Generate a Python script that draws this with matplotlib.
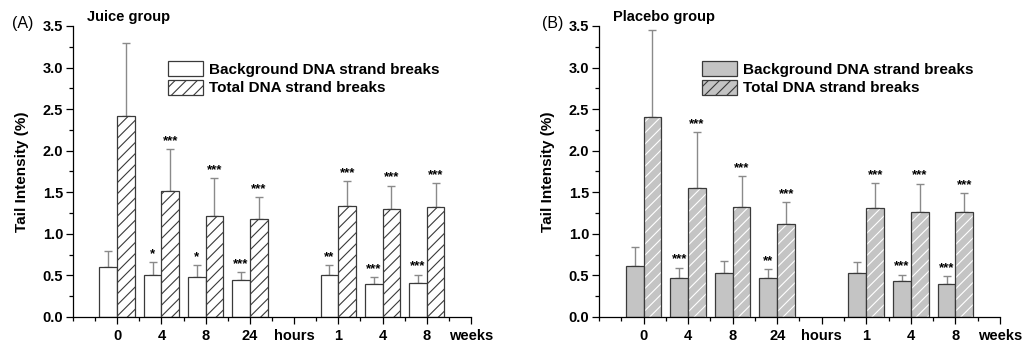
import matplotlib

matplotlib.use("Agg")
import matplotlib.pyplot as plt
import numpy as np

plt.rcParams["font.family"] = ["Liberation Sans", "DejaVu Sans"]
plt.rcParams["hatch.linewidth"] = 0.8

# x-axis group labels and positions (units of the minor tick spacing)
tick_labels = ["0", "4", "8", "24", "hours", "1", "4", "8", "weeks"]
group_pos = [2, 4, 6, 8, 12, 14, 16]

# Juice group
juice_bg = [0.60, 0.50, 0.48, 0.45, 0.50, 0.40, 0.41]
juice_bg_err = [0.19, 0.16, 0.14, 0.09, 0.12, 0.08, 0.10]
juice_tot = [2.42, 1.51, 1.22, 1.18, 1.34, 1.30, 1.32]
juice_tot_err = [0.88, 0.51, 0.45, 0.26, 0.29, 0.28, 0.29]
juice_bg_sig = ["", "*", "*", "***", "**", "***", "***"]
juice_tot_sig = ["", "***", "***", "***", "***", "***", "***"]

# Placebo group
plac_bg = [0.61, 0.465, 0.525, 0.465, 0.525, 0.43, 0.40]
plac_bg_err = [0.235, 0.125, 0.145, 0.11, 0.135, 0.08, 0.09]
plac_tot = [2.40, 1.55, 1.32, 1.12, 1.31, 1.26, 1.26]
plac_tot_err = [1.05, 0.67, 0.37, 0.26, 0.30, 0.34, 0.23]
plac_bg_sig = ["", "***", "", "**", "", "***", "***"]
plac_tot_sig = ["", "***", "***", "***", "***", "***", "***"]

EDGE = "#3a3a3a"
ERR = "#8a8a8a"
GRAY = "#c4c4c4"
W = 0.8


def draw_panel(ax, bg, bg_err, tot, tot_err, bg_sig, tot_sig, fill, hatch_col,
               letter, letter_x, title, leg_x):
    x = np.array(group_pos, dtype=float)
    xb = x - W / 2
    xt = x + W / 2

    ax.errorbar(xb, bg, yerr=[np.zeros(len(bg)), bg_err], fmt="none",
                ecolor=ERR, elinewidth=1.0, capsize=3, capthick=1.0, zorder=1)
    ax.errorbar(xt, tot, yerr=[np.zeros(len(tot)), tot_err], fmt="none",
                ecolor=ERR, elinewidth=1.0, capsize=3, capthick=1.0, zorder=1)

    ax.bar(xb, bg, W, facecolor=fill, edgecolor=EDGE, linewidth=0.9, zorder=2)
    # hatched bars: fill + hatch drawn first, outline on top
    ax.bar(xt, tot, W, facecolor=fill, edgecolor=hatch_col, hatch="///",
           linewidth=0, zorder=2)
    ax.bar(xt, tot, W, facecolor="none", edgecolor=EDGE, linewidth=0.9,
           zorder=3)

    for xs, tops, sigs in ((xb, np.add(bg, bg_err), bg_sig),
                           (xt, np.add(tot, tot_err), tot_sig)):
        for xi, top, s in zip(xs, tops, sigs):
            if s:
                ax.text(xi, top + 0.10, s, ha="center", va="center",
                        fontsize=9.5, fontweight="bold")

    ax.set_xlim(0, 18)
    ax.set_ylim(0, 3.5)
    ax.set_xticks(range(2, 19, 2))
    ax.set_xticklabels(tick_labels)
    ax.set_xticks(range(0, 19), minor=True)
    ax.set_yticks(np.arange(0, 3.51, 0.5))
    ax.set_yticks(np.arange(0.25, 3.5, 0.5), minor=True)
    ax.yaxis.set_major_formatter(matplotlib.ticker.FormatStrFormatter("%.1f"))
    ax.tick_params(axis="x", which="major", direction="out", length=5,
                   width=0.9, pad=4, labelsize=10.5)
    ax.tick_params(axis="x", which="minor", direction="out", length=3,
                   width=0.9)
    ax.tick_params(axis="y", which="major", direction="out", length=5,
                   width=0.9, pad=2, labelsize=10.5)
    ax.tick_params(axis="y", which="minor", direction="out", length=3,
                   width=0.9)
    for lab in ax.get_xticklabels() + ax.get_yticklabels():
        lab.set_fontweight("bold")
    for side in ("top", "right"):
        ax.spines[side].set_visible(False)
    for side in ("left", "bottom"):
        ax.spines[side].set_linewidth(0.9)
    ax.set_ylabel("Tail Intensity (%)", fontsize=11, fontweight="bold",
                  labelpad=10)

    ax.text(letter_x, 1.01, letter, transform=ax.transAxes, fontsize=11.5,
            ha="left", va="center")
    ax.text(0.035, 1.03, title, transform=ax.transAxes, fontsize=10.5,
            fontweight="bold", ha="left", va="center")

    hb = plt.Rectangle((0, 0), 1, 1, facecolor=fill, edgecolor=EDGE,
                       linewidth=0.9)
    ht = plt.Rectangle((0, 0), 1, 1, facecolor=fill, edgecolor=EDGE,
                       hatch="///", linewidth=0.9)
    ax.legend([hb, ht], ["Background DNA strand breaks",
                         "Total DNA strand breaks"],
              loc="upper left", bbox_to_anchor=(leg_x, 0.88), frameon=False,
              borderpad=0, borderaxespad=0, handlelength=2.3,
              handleheight=1.15, handletextpad=0.4, labelspacing=0.2,
              prop={"size": 11, "weight": "bold"})


fig = plt.figure(figsize=(10.29, 3.47), dpi=100)
ax1 = fig.add_axes([0.0709, 0.0865, 0.3868, 0.8386])
ax2 = fig.add_axes([0.5821, 0.0865, 0.3897, 0.8386])

draw_panel(ax1, juice_bg, juice_bg_err, juice_tot, juice_tot_err,
           juice_bg_sig, juice_tot_sig, "white", EDGE, "(A)", -0.153,
           "Juice group", 0.239)
draw_panel(ax2, plac_bg, plac_bg_err, plac_tot, plac_tot_err,
           plac_bg_sig, plac_tot_sig, GRAY, "white", "(B)", -0.142,
           "Placebo group", 0.257)

fig.savefig("out.png", dpi=100)
